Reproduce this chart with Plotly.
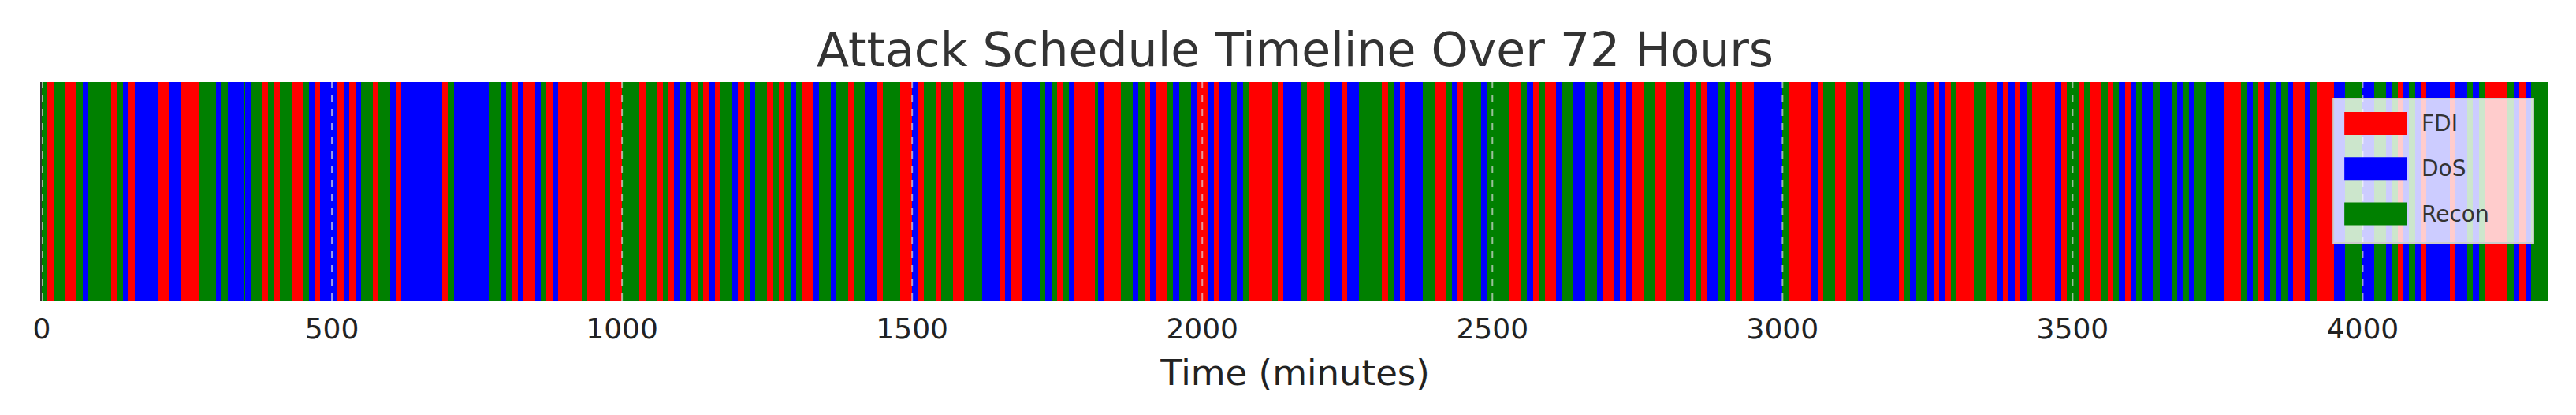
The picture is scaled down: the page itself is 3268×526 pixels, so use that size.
import plotly.graph_objects as go

# attack schedule: segment start times (minutes) and attack type of each segment
seg_start = [
    0, 10, 20, 40, 60, 70, 80, 120, 130, 140, 150, 160, 200, 220, 240, 270, 300, 310, 320, 348,
    350, 360, 380, 390, 400, 410, 430, 450, 460, 470, 480, 510, 520, 530, 540, 550, 570, 580, 600, 610,
    620, 690, 700, 710, 770, 790, 800, 810, 820, 830, 850, 860, 870, 880, 890, 930, 940, 970, 980, 1000,
    1030, 1040, 1060, 1070, 1080, 1090, 1100, 1110, 1120, 1130, 1140, 1150, 1160, 1170, 1190, 1200, 1210, 1220, 1230, 1250,
    1260, 1270, 1280, 1290, 1300, 1310, 1330, 1340, 1360, 1370, 1390, 1400, 1420, 1440, 1450, 1480, 1500, 1510, 1520, 1540,
    1550, 1570, 1590, 1620, 1650, 1660, 1670, 1690, 1720, 1730, 1740, 1750, 1760, 1770, 1780, 1815, 1820, 1830, 1860, 1880,
    1890, 1900, 1910, 1920, 1940, 1950, 1960, 1980, 1990, 2010, 2020, 2030, 2050, 2060, 2070, 2080, 2120, 2130, 2140, 2170,
    2180, 2210, 2220, 2240, 2250, 2270, 2310, 2320, 2330, 2340, 2350, 2380, 2400, 2420, 2430, 2440, 2450, 2480, 2490, 2530,
    2550, 2560, 2570, 2580, 2590, 2610, 2620, 2640, 2660, 2680, 2690, 2710, 2720, 2730, 2740, 2760, 2780, 2800, 2830, 2840,
    2850, 2860, 2870, 2890, 2900, 2910, 2920, 2930, 2950, 3000, 3010, 3050, 3060, 3070, 3090, 3110, 3130, 3140, 3150, 3200,
    3210, 3220, 3230, 3250, 3260, 3270, 3280, 3290, 3300, 3330, 3350, 3370, 3380, 3390, 3400, 3410, 3420, 3430, 3470, 3480,
    3490, 3510, 3520, 3530, 3550, 3560, 3570, 3580, 3590, 3600, 3610, 3620, 3640, 3650, 3670, 3680, 3690, 3700, 3710, 3730,
    3760, 3790, 3800, 3810, 3820, 3830, 3840, 3850, 3860, 3870, 3880, 3900, 3910, 3920, 3950, 3970, 4000, 4020, 4040, 4050,
    4060, 4070, 4080, 4090, 4100, 4110, 4150, 4160, 4180, 4190, 4200, 4210, 4250, 4260, 4270, 4280, 4290,
]
seg_type = (
    "RFRFRDRFRDFDFDFRDRDR"
    "DRFRFRFRDFDFDFDRFRDF"
    "DFRDRDRFDFDRFDFRFRFR"
    "FRFRFDRDFRFDFRDFRDRF"
    "RFRDRFDRDRFRDFRFDFRF"
    "RFRDFDFDRDRFRDFRDFRD"
    "RFDFRDRDFDFDRDRFRFDR"
    "FRDFDRFRDFDRFRDFRDRF"
    "RDFRFDRDRDFDFDFRFRDF"
    "RFDRDFRFDRFDFRFRDRDF"
    "RDRDFDFRFRFDFDFDRFDF"
    "RFRFRFRDFDRDRDRDRDRD"
    "FRDRFDRDRDFDRFDRDRDR"
    "FDRDFDFDRDRFRDFDR"
)
t_end = 4320

attack_names = {"F": "FDI", "D": "DoS", "R": "Recon"}
legend_order = ["FDI", "DoS", "Recon"]
attack_colors = {"FDI": "#ff0000", "DoS": "#0000ff", "Recon": "#008000"}
tick_vals = [0, 500, 1000, 1500, 2000, 2500, 3000, 3500, 4000]

seg_end = seg_start[1:] + [t_end]

fig = go.Figure()
for code in ["F", "D", "R"]:
    name = attack_names[code]
    idx = [i for i, c in enumerate(seg_type) if c == code]
    fig.add_trace(go.Bar(
        orientation="h",
        y=[0] * len(idx),
        base=[seg_start[i] for i in idx],
        x=[seg_end[i] - seg_start[i] for i in idx],
        width=1,
        name=name,
        marker=dict(color=attack_colors[name], line=dict(width=0)),
        showlegend=False,
    ))

# dashed grid lines drawn over the bars
for t in tick_vals:
    fig.add_shape(type="line", xref="x", yref="paper", x0=t, x1=t, y0=0, y1=1,
                  line=dict(color="rgba(220,220,220,0.7)", width=2, dash="dash"), layer="above")

# legend box drawn like matplotlib's (wide colour patches)
fig.add_shape(type="rect", xref="paper", yref="paper", x0=0.9142, x1=0.9940, y0=0.2635, y1=0.9242,
              fillcolor="rgba(255,255,255,0.8)", line=dict(color="#cccccc", width=2), layer="above")
row_top, row_gap, half_h = 0.8105, 0.2067, 0.0523
for i, name in enumerate(legend_order):
    yc = row_top - i * row_gap
    fig.add_shape(type="rect", xref="paper", yref="paper", x0=0.9186, x1=0.9434,
                  y0=yc - half_h, y1=yc + half_h, fillcolor=attack_colors[name],
                  line=dict(width=0), layer="above")
    fig.add_annotation(text=name, xref="paper", yref="paper", x=0.9487, y=yc,
                       xanchor="left", yanchor="middle", showarrow=False,
                       font=dict(size=28, color="#333333"))

# the page body adds an 8px offset, margins compensate for it
fig.update_layout(
    width=3268, height=526,
    paper_bgcolor="white", plot_bgcolor="white",
    barmode="overlay", bargap=0,
    margin=dict(l=45, r=43, t=96, b=153),
    font=dict(family="DejaVu Sans", color="#222222"),
    title=dict(text="Attack Schedule Timeline Over 72 Hours", x=0.5, xref="paper",
               y=0.895, yanchor="middle", font=dict(size=60, color="#333333")),
    xaxis=dict(range=[0, t_end], tickvals=tick_vals, showgrid=False, zeroline=False,
               ticks="outside", ticklen=4, tickcolor="rgba(0,0,0,0)",
               tickfont=dict(size=36),
               title=dict(text="Time (minutes)", font=dict(size=45), standoff=20)),
    yaxis=dict(range=[-0.5, 0.5], showticklabels=False, showgrid=False, zeroline=False,
               showline=True, linecolor="#333333", linewidth=2),
    showlegend=False,
)

fig.write_html("out.html")
